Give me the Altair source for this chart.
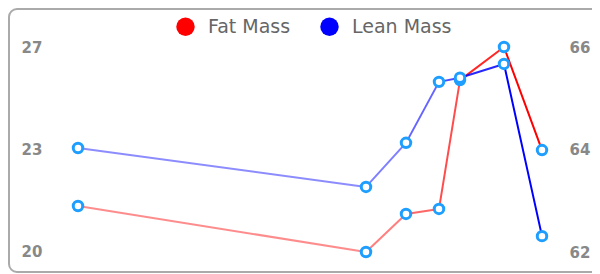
import altair as alt
import pandas as pd

# ---- data ----
days = [0, 288, 328, 361, 382, 426, 464]
fat_mass = [21.57, 20.0, 21.30, 21.47, 25.87, 27.0, 23.48]
lean_mass = [64.03, 63.27, 64.13, 65.32, 65.40, 65.67, 62.31]
series_names = ["Fat Mass", "Lean Mass"]
series_colors = ["#ff0000", "#0000ff"]
segment_opacity = [0.45, 0.5, 0.6, 0.7, 0.85, 1.0]
left_ticks = [20, 23.5, 27]
right_ticks = [62, 64, 66]
left_domain = [19.317, 28.298]
right_domain = [61.610, 66.742]
x_domain = [-69, 531]


def points(values, name):
    return pd.DataFrame({"day": days, "value": values, "series": name})


def segments(values, name):
    return pd.DataFrame({
        "day": days[:-1], "day2": days[1:],
        "value": values[:-1], "value2": values[1:],
        "series": name, "opacity": segment_opacity,
    })


fat_pts_df = points(fat_mass, "Fat Mass")
lean_pts_df = points(lean_mass, "Lean Mass")
fat_seg_df = segments(fat_mass, "Fat Mass")
lean_seg_df = segments(lean_mass, "Lean Mass")
all_pts_df = pd.concat([fat_pts_df, lean_pts_df])

x_enc = alt.X("day:Q", scale=alt.Scale(domain=x_domain, nice=False, zero=False), axis=None)
left_scale = alt.Scale(domain=left_domain, nice=False, zero=False)
right_scale = alt.Scale(domain=right_domain, nice=False, zero=False)
stroke_scale = alt.Scale(domain=series_names, range=series_colors)

axis_style = dict(grid=False, domain=False, ticks=False, tickSize=0, labelPadding=0,
                  labelAlign="left", labelFont="DejaVu Sans", labelFontSize=15,
                  labelFontWeight="bold", labelColor="#888888", title=None)
left_axis = alt.Axis(orient="left", values=left_ticks, offset=-12,
                     labelExpr="floor(datum.value)", **axis_style)
right_axis = alt.Axis(orient="right", values=right_ticks, offset=-40, **axis_style)

fat_seg = alt.Chart(fat_seg_df).mark_rule(strokeWidth=2, strokeCap="round").encode(
    x=x_enc, x2="day2:Q",
    y=alt.Y("value:Q", scale=left_scale, axis=left_axis), y2="value2:Q",
    stroke=alt.Stroke("series:N", scale=stroke_scale, legend=None),
    opacity=alt.Opacity("opacity:Q", scale=None),
)
lean_seg = alt.Chart(lean_seg_df).mark_rule(strokeWidth=2, strokeCap="round").encode(
    x=x_enc, x2="day2:Q",
    y=alt.Y("value:Q", scale=right_scale, axis=right_axis), y2="value2:Q",
    stroke=alt.Stroke("series:N", scale=stroke_scale, legend=None),
    opacity=alt.Opacity("opacity:Q", scale=None),
)

pt_style = dict(shape="circle", filled=False, fill="white", stroke="#1e9fff",
                strokeWidth=3, size=90, opacity=1)
fat_pts = alt.Chart(fat_pts_df).mark_point(**pt_style).encode(
    x=x_enc, y=alt.Y("value:Q", scale=left_scale, axis=None))
lean_pts = alt.Chart(lean_pts_df).mark_point(**pt_style).encode(
    x=x_enc, y=alt.Y("value:Q", scale=right_scale, axis=None))

legend_layer = alt.Chart(all_pts_df).mark_point(
    filled=True, size=0, shape="circle", opacity=1
).encode(
    x=x_enc,
    fill=alt.Fill("series:N", scale=stroke_scale, legend=alt.Legend(
        title=None, orient="none", legendX=167, legendY=8, direction="horizontal",
        symbolType="circle", symbolSize=340, symbolStrokeWidth=0, symbolOpacity=1,
        labelFont="DejaVu Sans", labelFontSize=19, labelColor="#666666",
        labelOffset=13, columnPadding=29, padding=0)),
)

chart = alt.layer(fat_seg, lean_seg, fat_pts, lean_pts, legend_layer).resolve_scale(
    y="independent", fill="independent", stroke="shared"
).properties(
    width=600, height=263,
    autosize=alt.AutoSizeParams(type="none"),
    padding={"left": 1, "top": 1, "right": -17, "bottom": 1},
).configure_view(stroke="#aaaaaa", strokeWidth=2, cornerRadius=8)

chart.save("out.html", embed_options={"renderer": "svg", "actions": False})
